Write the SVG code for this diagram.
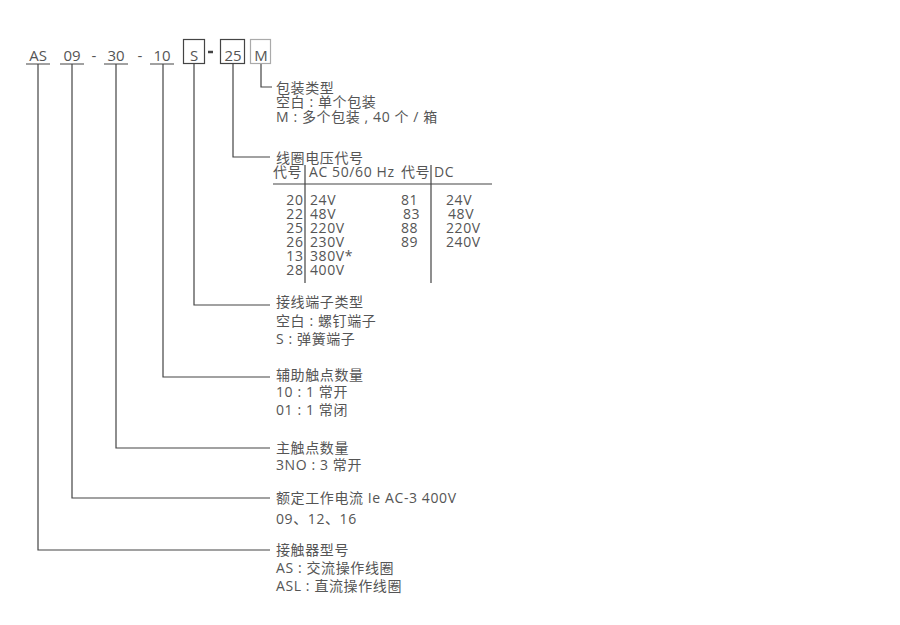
<svg xmlns="http://www.w3.org/2000/svg" width="900" height="625" viewBox="0 0 900 625">
<style>
text{font-family:"Open Sans","Noto Sans CJK SC",sans-serif;font-size:14px;fill:#555;letter-spacing:0.6px}
.code{font-size:15px;text-anchor:middle;letter-spacing:0}
.ln{stroke:#444;stroke-width:1.2;fill:none}
.box{stroke:#444;stroke-width:1.2;fill:none}
.boxl{stroke:#aaa;stroke-width:1.2;fill:none}
.r{text-anchor:end}
</style>
<rect width="900" height="625" fill="#fff"/>
<g id="codes">
<text class="code" x="38" y="61">AS</text>
<text class="code" x="72" y="61">09</text>
<text class="code" x="94" y="61">-</text>
<text class="code" x="116" y="61">30</text>
<text class="code" x="140" y="61">-</text>
<text class="code" x="162" y="61">10</text>
<rect class="box" x="183.5" y="39.5" width="21" height="24"/>
<text class="code" x="194" y="61">S</text>
<line x1="208" y1="52" x2="213" y2="52" stroke="#444" stroke-width="2.5"/>
<rect class="box" x="220.5" y="39.5" width="24" height="24"/>
<text class="code" x="233" y="61">25</text>
<rect class="boxl" x="250.5" y="39.5" width="20" height="24"/>
<text class="code" x="261" y="61">M</text>
</g>
<g id="connectors">
<path class="ln" d="M26 64H50M38 64V550H270"/>
<path class="ln" d="M60 64H84M72 64V498H270"/>
<path class="ln" d="M104 64H128M116 64V448H270"/>
<path class="ln" d="M150 64H174M163 64V377H270"/>
<path class="ln" d="M194 64V305H270"/>
<path class="ln" d="M233 64V157H270"/>
<path class="ln" d="M261 64V87H272"/>
</g>
<g id="packaging">
<text x="276" y="93">包装类型</text>
<text x="276" y="107">空白 : 单个包装</text>
<text x="276" y="122">M : 多个包装 , 40 个 / 箱</text>
</g>
<g id="coil">
<text x="276" y="163">线圈电压代号</text>
<text x="273" y="177">代号</text>
<text x="309" y="177">AC 50/60 Hz</text>
<text x="401" y="177">代号</text>
<text x="434" y="177">DC</text>
<line class="ln" x1="273" y1="184" x2="492" y2="184"/>
<line class="ln" x1="305" y1="165" x2="305" y2="283"/>
<line class="ln" x1="431" y1="165" x2="431" y2="283"/>
<text class="r" x="303.5" y="205">20</text>
<text class="r" x="303.5" y="219">22</text>
<text class="r" x="303.5" y="233">25</text>
<text class="r" x="303.5" y="247">26</text>
<text class="r" x="303.5" y="261">13</text>
<text class="r" x="303.5" y="275">28</text>
<text x="310" y="205">24V</text>
<text x="310" y="219">48V</text>
<text x="310" y="233">220V</text>
<text x="310" y="247">230V</text>
<text x="310" y="261">380V*</text>
<text x="310" y="275">400V</text>
<text x="401" y="205">81</text>
<text x="403" y="219">83</text>
<text x="401" y="233">88</text>
<text x="401" y="247">89</text>
<text x="446" y="205">24V</text>
<text x="448" y="219">48V</text>
<text x="446" y="233">220V</text>
<text x="446" y="247">240V</text>
</g>
<g id="terminal">
<text x="276" y="307">接线端子类型</text>
<text x="276" y="326">空白 : 螺钉端子</text>
<text x="276" y="344">S : 弹簧端子</text>
</g>
<g id="aux">
<text x="276" y="380">辅助触点数量</text>
<text x="276" y="397">10 : 1 常开</text>
<text x="276" y="415">01 : 1 常闭</text>
</g>
<g id="main">
<text x="276" y="453">主触点数量</text>
<text x="276" y="470">3NO : 3 常开</text>
</g>
<g id="current">
<text x="276" y="503">额定工作电流 Ie AC-3 400V</text>
<text x="276" y="524">09、12、16</text>
</g>
<g id="model">
<text x="276" y="555">接触器型号</text>
<text x="276" y="573">AS : 交流操作线圈</text>
<text x="276" y="591">ASL : 直流操作线圈</text>
</g>
</svg>
